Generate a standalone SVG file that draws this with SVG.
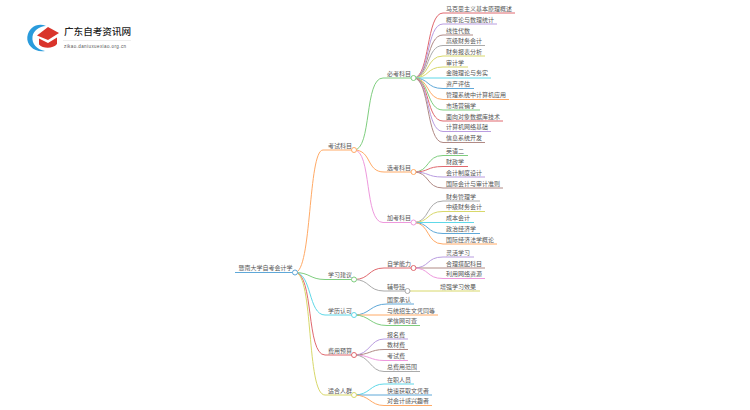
<svg xmlns="http://www.w3.org/2000/svg" width="750" height="410" viewBox="0 0 750 410">
<style>
text{font-family:"Noto Sans CJK SC","Liberation Sans",sans-serif;font-size:6px;fill:#555}
.c path{fill:none;stroke-width:1}
.n{fill:#fff;stroke-width:1}
.r{stroke:#e0686e}.p{stroke:#b99ce0}.b{stroke:#b08a85}.g{stroke:#aaa}.y{stroke:#d8d86a}.a{stroke:#5fd8e8}.u{stroke:#5fa8d8}.o{stroke:#ffaa66}.e{stroke:#7fce7f}.k{stroke:#ee99dd}
</style>
<rect width="750" height="410" fill="#fff"/>
<g id="logo">
<path d="M46 26C38 22.500 28.500 27 27.300 37C26.500 45 34 52.500 45 51C37 49.500 31.500 44 32.500 36.500C33.500 30.500 39 26.500 46 26Z" fill="#2a9bdc"/>
<path d="M37 35.500L48 27L59 33L48 40Z" fill="#d9342b"/>
<path d="M39 38.500L48 43L57 37.500V44C53 49 43 49 39 44.500Z" fill="#d9342b"/>
<text x="64" y="34.500" style="font-size:9.600px;font-weight:500;fill:#222">广东自考资讯网</text>
<rect x="63" y="40" width="68" height="0.500" fill="#ddd"/>
<text x="64" y="48" style="font-size:4.500px;letter-spacing:.42px;fill:#555;font-family:'Liberation Sans',sans-serif">zikao.daniuxuexiao.org.cn</text>
</g>
<g class="c">
<path class="u" d="M235 272.500H295"/>
<path class="o" d="M295 272.500C312 272.500 308 150 323 150H354"/>
<path class="e" d="M295 272.500C310 272.500 310 279.500 325 279.500H354"/>
<path class="a" d="M295 272.500C312 272.500 308 315 325 315H354"/>
<path class="r" d="M295 272.500C314 272.500 306 355 325 355H354"/>
<path class="y" d="M295 272.500C314 272.500 306 395 325 395H354"/>
<path class="e" d="M354 150C372 150 364 78 383 78H413.500"/>
<path class="o" d="M354 150C372 150 366 172 384 172H413.500"/>
<path class="k" d="M354 150C372 150 364 222.500 383 222.500H413.500"/>
<path class="r" d="M354 279.500C370 279.500 368 268 384 268H413.500"/>
<path class="g" d="M354 279.500C370 279.500 368 291 384 291H407.500"/>
<path class="u" d="M354 315C370 315 370 304 387 304H414"/>
<path class="o" d="M354 315H438"/>
<path class="e" d="M354 315C370 315 370 325.500 387 325.500H420"/>
<path class="p" d="M354 355C370 355 370 339 384 339H408"/>
<path class="b" d="M354 355C370 355 370 349.500 384 349.500H408"/>
<path class="k" d="M354 355C370 355 370 360.500 384 360.500H408"/>
<path class="g" d="M354 355C370 355 370 371.500 384 371.500H420"/>
<path class="a" d="M354 395C370 395 370 384 384 384H414"/>
<path class="u" d="M354 395H432"/>
<path class="o" d="M354 395C370 395 370 405.500 384 405.500H432"/>
<path class="r" d="M413.500 78C430 78 426 13 443 13H515"/>
<path class="p" d="M413.500 78C430 78 426 24 443 24H497"/>
<path class="b" d="M413.500 78C430 78 426 35 443 35H473"/>
<path class="g" d="M413.500 78C430 78 426 45.500 443 45.500H485"/>
<path class="y" d="M413.500 78C430 78 426 56 443 56H485"/>
<path class="y" d="M413.500 78C430 78 426 67 443 67H468"/>
<path class="a" d="M413.500 78H491"/>
<path class="u" d="M413.500 78C430 78 426 88.500 443 88.500H474"/>
<path class="o" d="M413.500 78C430 78 426 99.500 443 99.500H509"/>
<path class="e" d="M413.500 78C430 78 426 110 443 110H480"/>
<path class="r" d="M413.500 78C430 78 426 121 443 121H503"/>
<path class="p" d="M413.500 78C430 78 426 131.500 443 131.500H491"/>
<path class="b" d="M413.500 78C430 78 426 142.500 443 142.500H485"/>
<path class="e" d="M413.500 172C430 172 426 155.500 443 155.500H468"/>
<path class="r" d="M413.500 172C430 172 426 166.500 443 166.500H468"/>
<path class="p" d="M413.500 172C430 172 426 177 443 177H485"/>
<path class="b" d="M413.500 172C430 172 426 188 443 188H503"/>
<path class="g" d="M413.500 222.500C430 222.500 426 201 443 201H480"/>
<path class="y" d="M413.500 222.500C430 222.500 426 211.500 443 211.500H485"/>
<path class="a" d="M413.500 222.500H474"/>
<path class="u" d="M413.500 222.500C430 222.500 426 233.500 443 233.500H480"/>
<path class="o" d="M413.500 222.500C430 222.500 426 244 443 244H497"/>
<path class="p" d="M413.500 268C430 268 426 257 443 257H474"/>
<path class="b" d="M413.500 268H485"/>
<path class="k" d="M413.500 268C430 268 426 278.500 443 278.500H485"/>
<path class="y" d="M407.500 291H480"/>
</g>
<g id="root"><text x="238.500" y="270">暨南大学自考会计学</text><circle class="n u" cx="295" cy="272.500" r="2.500"/></g>
<g id="b1"><text x="328" y="147.600">考试科目</text><circle class="n o" cx="354" cy="150" r="2.500"/></g>
<g id="b2"><text x="328" y="277">学习建议</text><circle class="n e" cx="354" cy="279.500" r="2.500"/></g>
<g id="b3"><text x="328" y="312.600">学历认可</text><circle class="n a" cx="354" cy="315" r="2.500"/></g>
<g id="b4"><text x="328" y="352.600">费用预算</text><circle class="n r" cx="354" cy="355" r="2.500"/></g>
<g id="b5"><text x="328" y="392.600">适合人群</text><circle class="n y" cx="354" cy="395" r="2.500"/></g>
<g id="c1"><text x="387" y="75.600">必考科目</text><circle class="n e" cx="413.500" cy="78" r="2.500"/></g>
<g id="c2"><text x="387" y="169.600">选考科目</text><circle class="n o" cx="413.500" cy="172" r="2.500"/></g>
<g id="c3"><text x="387" y="220">加考科目</text><circle class="n k" cx="413.500" cy="222.500" r="2.500"/></g>
<g id="c4"><text x="387" y="265.600">自学能力</text><circle class="n r" cx="413.500" cy="268" r="2.500"/></g>
<g id="c5"><text x="387" y="288.600">辅导班</text><circle class="n g" cx="407.500" cy="291" r="2.500"/></g>
<g id="leaves">
<text x="446" y="10.800">马克思主义基本原理概述</text>
<text x="446" y="21.800">概率论与数理统计</text>
<text x="446" y="32.800">线性代数</text>
<text x="446" y="43.300">高级财务会计</text>
<text x="446" y="53.800">财务报表分析</text>
<text x="446" y="64.800">审计学</text>
<text x="446" y="75.300">金融理论与务实</text>
<text x="446" y="86.300">资产评估</text>
<text x="446" y="97.300">管理系统中计算机应用</text>
<text x="446" y="107.800">市场营销学</text>
<text x="446" y="118.800">面向对象数据库技术</text>
<text x="446" y="129.300">计算机网络基础</text>
<text x="446" y="140.300">信息系统开发</text>
<text x="446" y="153.300">英语二</text>
<text x="446" y="164.300">财政学</text>
<text x="446" y="174.800">会计制度设计</text>
<text x="446" y="185.800">国际会计与审计准则</text>
<text x="446" y="198.800">财务管理学</text>
<text x="446" y="209.300">中级财务会计</text>
<text x="446" y="220.300">成本会计</text>
<text x="446" y="231.300">政治经济学</text>
<text x="446" y="241.800">国际经济法学概论</text>
<text x="446" y="254.800">灵活学习</text>
<text x="446" y="265.800">合理搭配科目</text>
<text x="446" y="276.300">利用网络资源</text>
<text x="440" y="288.800">增强学习效果</text>
<text x="387" y="301.800">国家承认</text>
<text x="387" y="312.800">与统招生文凭同等</text>
<text x="387" y="323.300">学信网可查</text>
<text x="387" y="336.800">报名费</text>
<text x="387" y="347.300">教材费</text>
<text x="387" y="358.300">考试费</text>
<text x="387" y="369.300">总费用范围</text>
<text x="387" y="381.800">在职人员</text>
<text x="387" y="392.800">快速获取文凭者</text>
<text x="387" y="403.300">对会计感兴趣者</text>
</g>
</svg>
